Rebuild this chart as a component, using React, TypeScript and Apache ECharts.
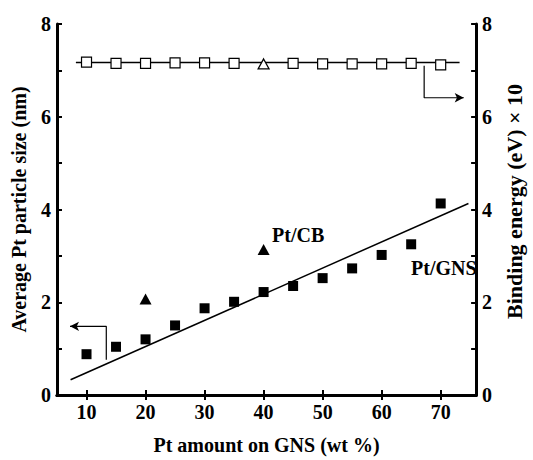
import React, { useEffect, useRef } from "react";
import * as echarts from "echarts";

const FONT = '"Liberation Serif", "Times New Roman", serif';

// Pt/GNS particle size (left axis)
const gnsX = [10, 15, 20, 25, 30, 35, 40, 45, 50, 55, 60, 65, 70];
const gnsY = [0.88, 1.04, 1.2, 1.5, 1.87, 2.01, 2.22, 2.35, 2.52, 2.73, 3.02, 3.25, 4.13];
// Pt/CB particle size (left axis)
const cbX = [20, 40];
const cbY = [2.07, 3.14];
// linear fit through Pt/GNS
const fitX = [7.3, 74.7];
const fitY = [0.33, 4.13];
// Binding energy x10 (right axis)
const beX = [10, 15, 20, 25, 30, 35, 45, 50, 55, 60, 65, 70];
const beY = [7.18, 7.15, 7.15, 7.16, 7.16, 7.15, 7.15, 7.14, 7.14, 7.14, 7.15, 7.12];
const beCbX = [40];
const beCbY = [7.14];
const beFitX = [8.2, 73.2];
const beFitY = [7.17, 7.17];
// arrows indicating which axis each group belongs to
const arrowLeftX = [13.35, 13.35, 7.2];
const arrowLeftY = [0.76, 1.48, 1.48];
const arrowRightX = [67.2, 67.2, 73.9];
const arrowRightY = [7.1, 6.41, 6.41];

const xTicks = [10, 20, 30, 40, 50, 60, 70];

const zip = (xs: number[], ys: number[]) => xs.map((x, i) => [x, ys[i]]);

function arrowData(xs: number[], ys: number[], rot: number) {
  return xs.map((x, i) =>
    i === xs.length - 1
      ? { value: [x, ys[i]], symbol: "arrow", symbolSize: [7, 9], symbolRotate: rot }
      : { value: [x, ys[i]], symbol: "none" }
  );
}

export default function App() {
  const ref = useRef<HTMLDivElement>(null);
  useEffect(() => {
    if (!ref.current) return;
    const chart = echarts.init(ref.current, undefined, { renderer: "svg" });
    const axisLine = { show: true, lineStyle: { color: "#000", width: 3 } };
    const axisTick = { show: true, inside: true, length: 5, lineStyle: { color: "#000", width: 2 } };
    const yAxisCommon = {
      type: "value",
      min: 0,
      max: 8,
      interval: 2,
      axisLine,
      axisTick,
      minorTick: { show: true, splitNumber: 2, length: 5, lineStyle: { color: "#000", width: 2 } },
      splitLine: { show: false },
      nameLocation: "middle",
      axisLabel: { fontFamily: FONT, fontWeight: "bold", fontSize: 20, color: "#000", margin: 6 },
    };
    chart.setOption({
      animation: false,
      backgroundColor: "#fff",
      grid: { left: 57, right: 47, top: 24, bottom: 58 },
      xAxis: [
        {
          type: "value",
          position: "bottom",
          min: 5,
          max: 76,
          axisLine,
          axisTick: { ...axisTick, customValues: xTicks },
          splitLine: { show: false },
          axisLabel: {
            customValues: xTicks,
            fontFamily: FONT,
            fontWeight: "bold",
            fontSize: 20,
            color: "#000",
            margin: 7,
          },
          name: "Pt amount on GNS (wt %)",
          nameLocation: "middle",
          nameGap: 40,
          nameTextStyle: { fontFamily: FONT, fontWeight: "bold", fontSize: 20, color: "#000" },
        },
        {
          type: "value",
          position: "top",
          min: 5,
          max: 76,
          axisLine,
          axisTick: { ...axisTick, customValues: xTicks },
          axisLabel: { show: false },
          splitLine: { show: false },
        },
      ],
      yAxis: [
        {
          ...yAxisCommon,
          position: "left",
          name: "Average Pt particle size (nm)",
          nameGap: 28,
          nameTextStyle: { fontFamily: FONT, fontWeight: "bold", fontSize: 20, color: "#000" },
        },
        {
          ...yAxisCommon,
          position: "right",
          name: "Binding energy (eV) \u00d7 10",
          nameGap: 24,
          nameTextStyle: {
            fontFamily: FONT,
            fontWeight: "bold",
            fontSize: 22,
            color: "#000",
            padding: [0, 0, 0, 16],
          },
        },
      ],
      series: [
        {
          type: "line",
          xAxisIndex: 0,
          yAxisIndex: 0,
          data: zip(fitX, fitY),
          showSymbol: false,
          symbol: "none",
          lineStyle: { color: "#000", width: 1.5 },
          z: 2,
        },
        {
          type: "scatter",
          xAxisIndex: 0,
          yAxisIndex: 0,
          data: zip(gnsX, gnsY),
          symbol: "rect",
          symbolSize: 10,
          itemStyle: { color: "#000", opacity: 1 },
          z: 3,
        },
        {
          type: "scatter",
          xAxisIndex: 0,
          yAxisIndex: 0,
          data: zip(cbX, cbY),
          symbol: "triangle",
          symbolSize: [12, 11],
          itemStyle: { color: "#000", opacity: 1 },
          z: 3,
        },
        {
          type: "line",
          xAxisIndex: 0,
          yAxisIndex: 1,
          data: zip(beFitX, beFitY),
          showSymbol: false,
          symbol: "none",
          lineStyle: { color: "#000", width: 1.5 },
          z: 2,
        },
        {
          type: "scatter",
          xAxisIndex: 0,
          yAxisIndex: 1,
          data: zip(beX, beY),
          symbol: "rect",
          symbolSize: 10,
          itemStyle: { color: "#fff", borderColor: "#000", borderWidth: 1.2, opacity: 1 },
          z: 3,
        },
        {
          type: "scatter",
          xAxisIndex: 0,
          yAxisIndex: 1,
          data: zip(beCbX, beCbY),
          symbol: "triangle",
          symbolSize: [11, 10],
          itemStyle: { color: "#fff", borderColor: "#000", borderWidth: 1.2, opacity: 1 },
          z: 3,
        },
        {
          type: "line",
          xAxisIndex: 0,
          yAxisIndex: 0,
          data: arrowData(arrowLeftX, arrowLeftY, 90),
          showSymbol: true,
          lineStyle: { color: "#000", width: 1.2 },
          itemStyle: { color: "#000", opacity: 1 },
          z: 2,
        },
        {
          type: "line",
          xAxisIndex: 0,
          yAxisIndex: 1,
          data: arrowData(arrowRightX, arrowRightY, -90),
          showSymbol: true,
          lineStyle: { color: "#000", width: 1.2 },
          itemStyle: { color: "#000", opacity: 1 },
          z: 2,
        },
      ],
      graphic: [
        {
          type: "text",
          x: 272,
          y: 235,
          style: { text: "Pt/CB", font: `bold 20px ${FONT}`, fill: "#000", verticalAlign: "middle" },
        },
        {
          type: "text",
          x: 411,
          y: 268,
          style: { text: "Pt/GNS", font: `bold 20px ${FONT}`, fill: "#000", verticalAlign: "middle" },
        },
      ],
    });
    return () => chart.dispose();
  }, []);
  return (
    <div
      ref={ref}
      style={{ position: "absolute", left: 0, top: 0, width: 533, height: 460 }}
    />
  );
}
